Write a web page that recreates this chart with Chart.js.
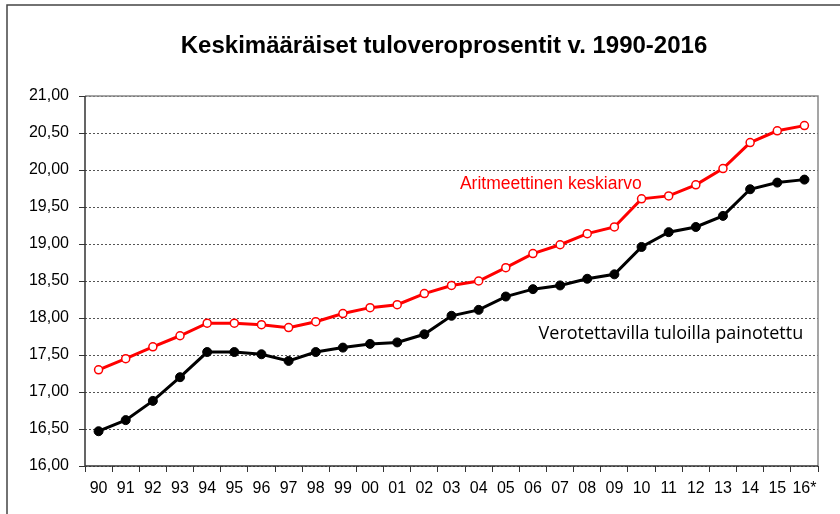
<!DOCTYPE html>
<html>
<head>
<meta charset="utf-8">
<script src="https://cdn.jsdelivr.net/npm/chart.js@4/dist/chart.umd.min.js"></script>
<style>
  html, body { margin: 0; padding: 0; background: #fff; }
  #wrap { width: 840px; height: 514px; position: relative; }
</style>
</head>
<body>
<div id="wrap"><canvas id="myChart" width="840" height="514"></canvas></div>
<script>
// vuodet
const years = ['90', '91', '92', '93', '94', '95', '96', '97', '98', '99', '00', '01', '02', '03',
    '04', '05', '06', '07', '08', '09', '10', '11', '12', '13', '14', '15', '16*'];

// Aritmeettinen keskiarvo
const arithmetic = [17.30, 17.45, 17.61, 17.76, 17.93, 17.93, 17.91, 17.87, 17.95, 18.06, 18.14, 18.18, 18.33, 18.44,
    18.50, 18.68, 18.87, 18.99, 19.14, 19.23, 19.61, 19.65, 19.80, 20.02, 20.37, 20.53, 20.60];

// Verotettavilla tuloilla painotettu
const weighted = [16.47, 16.62, 16.88, 17.20, 17.54, 17.54, 17.51, 17.42, 17.54, 17.60, 17.65, 17.67, 17.78, 18.03,
    18.11, 18.29, 18.39, 18.44, 18.53, 18.59, 18.96, 19.16, 19.23, 19.38, 19.74, 19.83, 19.87];

const yTicks = [16, 16.5, 17, 17.5, 18, 18.5, 19, 19.5, 20, 20.5, 21];

const title = 'Keskimääräiset tuloveroprosentit v. 1990-2016';

// tekstit ja kehykset piirretään itse
const decorations = {
    id: 'decorations',
    beforeDraw(chart) {
        const c = chart.ctx;
        c.save();
        c.fillStyle = '#fff';
        c.fillRect(0, 0, chart.width, chart.height);
        // ulkokehys
        c.strokeStyle = '#444';
        c.lineWidth = 1.5;
        c.beginPath();
        c.moveTo(7, chart.height);
        c.lineTo(7, 5);
        c.lineTo(chart.width, 5);
        c.stroke();
        c.restore();
    },
    beforeDatasetsDraw(chart) {
        const c = chart.ctx;
        const a = chart.chartArea;
        c.save();
        // kuvaajan reunat
        c.lineWidth = 1.5;
        c.strokeStyle = '#888';
        c.beginPath();
        c.moveTo(a.left, a.top);
        c.lineTo(a.right, a.top);
        c.lineTo(a.right, a.bottom);
        c.stroke();
        c.strokeStyle = '#333';
        c.beginPath();
        c.moveTo(a.left, a.top);
        c.lineTo(a.left, a.bottom);
        c.lineTo(a.right, a.bottom);
        c.stroke();
        c.restore();
    },
    afterDraw(chart) {
        const c = chart.ctx;
        const x = chart.scales.x;
        const y = chart.scales.y;
        c.save();
        c.fillStyle = '#000';
        c.font = 'bold 24px "Liberation Sans", Arial, sans-serif';
        c.textAlign = 'center';
        c.textBaseline = 'middle';
        c.fillText(title, 444, 46);

        c.fillStyle = '#ff0000';
        c.font = '17.5px "Liberation Sans", Arial, sans-serif';
        c.fillText('Aritmeettinen keskiarvo', x.getPixelForValue(16.66), y.getPixelForValue(19.81));

        c.fillStyle = '#000';
        c.font = '18px "Open Sans", "Noto Sans", sans-serif';
        c.fillText('Verotettavilla tuloilla painotettu', x.getPixelForValue(21.08), y.getPixelForValue(17.78));
        c.restore();
    }
};

const ctx = document.getElementById('myChart');
const chart = new Chart(ctx, {
    type: 'line',
    data: {
        labels: years,
        datasets: [{
            label: 'Aritmeettinen keskiarvo',
            data: arithmetic,
            borderColor: '#ff0000',
            borderWidth: 3,
            pointRadius: 4,
            pointBackgroundColor: '#fff',
            pointBorderColor: '#ff0000',
            pointBorderWidth: 1.5,
            tension: 0
        }, {
            label: 'Verotettavilla tuloilla painotettu',
            data: weighted,
            borderColor: '#000',
            borderWidth: 3,
            pointRadius: 4.5,
            pointBackgroundColor: '#000',
            pointBorderColor: '#000',
            pointBorderWidth: 1,
            tension: 0
        }]
    },
    options: {
        responsive: false,
        animation: false,
        layout: { padding: { left: 0, top: 96, right: 22, bottom: 0 } },
        plugins: {
            legend: { display: false },
            title: { display: false },
            tooltip: { enabled: false }
        },
        scales: {
            x: {
                offset: true,
                grid: {
                    offset: true,
                    drawOnChartArea: false,
                    drawTicks: true,
                    tickLength: 6,
                    color: '#333'
                },
                border: { display: false },
                ticks: {
                    color: '#000',
                    font: { size: 16, family: '"Liberation Sans", Arial, sans-serif' },
                    maxRotation: 0,
                    autoSkip: false,
                    padding: 7
                },
                afterFit(s) { s.height = 48; }
            },
            y: {
                min: 16,
                max: 21,
                afterBuildTicks(s) { s.ticks = yTicks.map(v => ({ value: v })); },
                grid: {
                    color: '#555',
                    lineWidth: 1,
                    tickLength: 6,
                    tickColor: '#333',
                    tickBorderDash: [],
                    drawTicks: true
                },
                border: { display: false, dash: [2, 2] },
                ticks: {
                    color: '#000',
                    font: { size: 16, family: '"Liberation Sans", Arial, sans-serif' },
                    padding: 10,
                    callback: v => v.toFixed(2).replace('.', ',')
                },
                afterFit(s) { s.width = 85; }
            }
        }
    },
    plugins: [decorations]
});
</script>
</body>
</html>
